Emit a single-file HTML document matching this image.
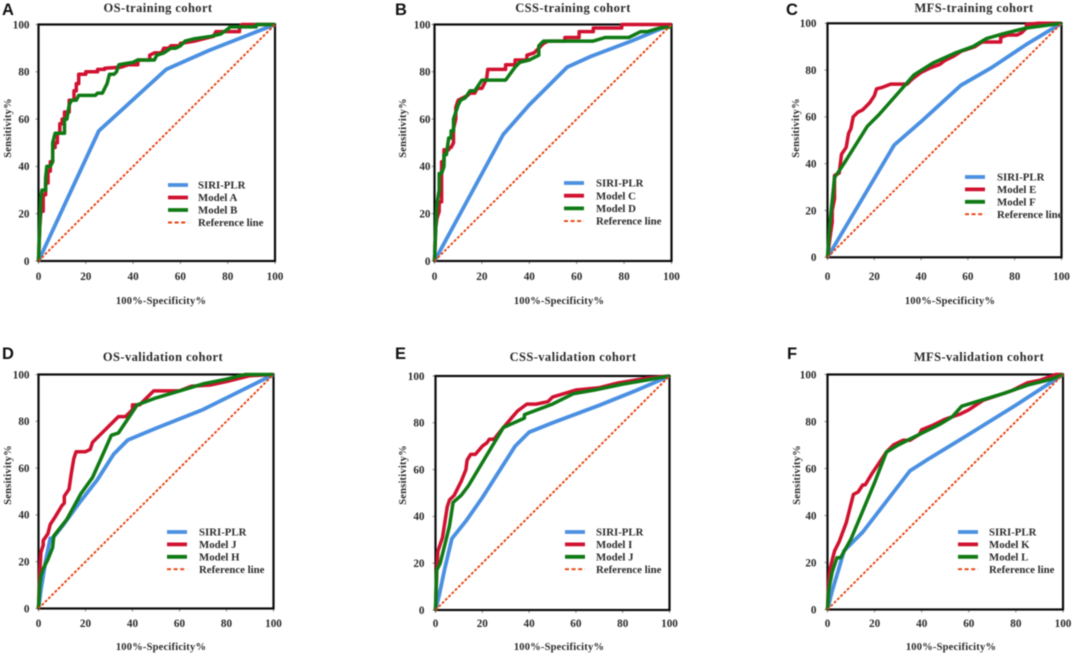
<!DOCTYPE html>
<html lang="en">
<head>
<meta charset="utf-8">
<title>ROC curves for training and validation cohorts</title>
<style>
html,body{margin:0;padding:0;background:#fff;width:1084px;height:656px;overflow:hidden}
svg{display:block;filter:blur(0.4px)}
text{font-family:"Liberation Serif",serif;font-weight:bold;fill:#2a2a2a}
.panel-letter{font-family:"Liberation Sans",sans-serif;font-size:16.5px;fill:#111}
.title{font-size:12.5px;letter-spacing:.4px;text-anchor:middle}
.tick{font-size:11.2px}
.axis-title{font-size:10.5px;text-anchor:middle;letter-spacing:.2px}
.legend{font-size:10.8px}
</style>
</head>
<body>
<svg id="figure" width="1084" height="656" viewBox="0 0 1084 656" xmlns="http://www.w3.org/2000/svg"></svg>
<script>
const xTicks = [0, 20, 40, 60, 80, 100];
const yTicks = [0, 20, 40, 60, 80, 100];
const refLine = [[0, 0], [100, 100]];

const siriA = [[0,0],[25.5,55],[54,81],[72,89],[100,100]];
const modelA = [[0,0],[0.5,14],[1,21],[2,21],[2,28],[3,28],[3,33],[4,33],[4,38],[5,38],[5,42],[6,42],[6,48],[7,48],[7,50],[8,50],[8,54],[9,54],[9,58],[10,58],[10,60],[11,60],[11,63],[13,63],[13,68],[15,68],[15,72],[16,72],[16,75],[17,75],[17,79],[20,79],[20,80],[25,80],[25,81],[28,81],[28,81.5],[35,82],[38,83],[42,83],[42,85],[47,85],[47,87],[49,88],[52,88],[53,90],[55,90],[56,91],[60,91],[60,92],[66,93],[70,94],[74,95],[75,97],[85,97],[85,99],[86,100],[100,100]];
const modelB = [[0,0],[0.5,14],[1,27],[1.5,30],[3,30],[3,35],[3.5,40],[5,40],[6,42],[6,50],[7,54],[11,54],[11,60],[12,60],[13,66],[14,68],[16,68],[17,70],[24,70],[25,71],[27,71],[28,73],[29,75],[30,79],[32,79],[33,80],[34,83],[40,84],[42,85],[49,85],[50,87],[53,88],[56,90],[58,90],[60,91],[62,93],[66,94],[73,95],[77,96],[80,98],[81,99],[92,99],[92,100],[100,100]];

const siriB = [[0,0],[29,53.5],[40,66],[56,82],[66,86.5],[83,93],[95,98],[100,100]];
const modelC = [[0,0],[0.5,14],[1,18],[2,21],[2,25],[3,25],[3,42],[4,42],[4,47],[6,47],[6,48],[7,48],[8,50],[8,56],[9,60],[9,65],[10,68],[12,69],[14,70],[15,71],[17,71],[18,73],[20,73],[21,75],[22,77],[22.5,81],[30,81],[30,83],[34,83],[34,85],[39,85],[39,87],[42,88],[44,90],[46,92],[48,93],[55,93],[55,94.5],[61,94.5],[61,97],[67,97],[67,98.5],[79,98.5],[79,100],[100,100]];
const modelD = [[0,0],[0.5,14],[1,24],[2,30],[2,37],[3,37],[4,40],[4,45],[5,45],[6,52],[7,52],[7,55],[8,55],[8,60],[10,66],[11,68],[13,69],[15,72],[17,72],[20,76.5],[30,76.5],[34,82],[36,84],[40,85],[44,87],[44,91],[46,93],[67,93],[72,94.5],[82,94.5],[87,97],[90,97],[95,98.5],[100,99]];

const siriC = [[0,0],[28.5,48],[40,58],[57,73.5],[70,81],[85,91],[100,100]];
const modelE = [[0,0],[1,8],[2,15],[2,20],[3,25],[3,35],[5,36],[6,44],[8,47],[9,53],[10,55],[11,60],[13,62],[15,63],[18,66],[20,69],[21,72],[23,72.5],[27,74],[34,74],[36,76],[40,79],[44,81],[48,82.5],[50,84],[54,86],[57,88],[63,90],[66,92],[74,92],[74,94],[77,95],[81,95],[83,96],[85,98],[85,99.5],[90,100],[100,100]];
const modelF = [[0,0],[1,14],[2,24],[3,34],[7,40],[12,48],[17,56],[22,61],[30,70],[37,78],[45,83],[55,87.5],[62,90],[68,93.5],[75,95.5],[85,98],[100,100]];

const siriD = [[0,0],[1,8],[3,20],[5,30],[6,30],[10,35],[18,46],[25,55],[32,66],[38,72],[50,77],[70,85],[85,92.5],[100,100]];
const modelJ1 = [[0,0],[0.5,15],[1,24],[2,27],[2,29],[4,32],[5,36],[7,39],[10,44],[11,45],[11,48],[13,51],[14,58],[15,64],[16,67],[20,67],[22,68],[23,71],[26,74],[30,78],[34,82],[37,82],[40,85],[40,87],[43,87],[46,90],[49,93],[60,93],[65,95],[73,95.5],[80,97],[90,99.5],[100,100]];
const modelH = [[0,0],[0.5,10],[1,14],[2,17],[4,21],[6,26],[6.5,31],[12,38],[18,49],[23,56],[27,65],[31,74],[34,75],[38,81],[42,87],[50,90],[60,93],[70,96],[80,98],[88,100],[100,100]];

const siriE = [[0,0],[1.5,6],[4,18],[7,30.5],[13,38],[20,48],[34,70],[40,76],[50,80],[70,87.5],[85,93.5],[100,100]];
const modelI = [[0,0],[0.5,16],[1,25],[3,31],[5,44],[6,47],[8,49],[11,55],[13,60],[13.5,64],[15,66.5],[17,66.5],[20,70],[22,71.5],[23,73],[25,73],[29,78],[35,85],[39,88],[43,88],[48,89],[50,91],[60,94],[70,95],[78,97],[90,99],[100,100]];
const modelJ2 = [[0,0],[0.5,17],[2,20],[4,28],[6,36],[7.5,46],[11,49],[14,53],[20,63],[29,78],[38,82],[38,83.5],[50,88],[59,92.5],[68,94],[80,96.5],[100,100]];

const siriF = [[0,0],[2,8],[5,18],[7,25],[15,33],[25,46],[35,59],[42,63.5],[60,74.5],[80,87],[100,100]];
const modelK = [[0,0],[0.5,12],[1,17],[2,21],[3,25],[5,29],[8,37],[11,49],[13,50],[15,53],[16,53],[19,58],[23,64],[25,67],[28,70],[32,72],[35,72],[39,74.5],[40,76.5],[45,78.5],[50,81],[56,83],[60,85],[66,89],[72,91],[78,93],[85,96.5],[90,97.5],[97,100],[100,100]];
const modelL = [[0,0],[0.5,8],[1,11],[2,16],[4,22],[5.5,22],[10,30],[15,42],[20,54],[25,67],[30,70],[38,74],[48,79],[53,82],[57,86.5],[65,89],[75,92],[85,95.5],[95,98],[100,100]];

const NS = 'http://www.w3.org/2000/svg';
const fig = document.getElementById('figure');

function node(parent, tag, attrs, txt) {
  const el = document.createElementNS(NS, tag);
  for (const k in attrs) el.setAttribute(k, attrs[k]);
  if (txt !== undefined) el.textContent = txt;
  parent.appendChild(el);
  return el;
}

const BLUE = '#4a90e2', RED = '#d0112f', GREEN = '#0f7a14', ORANGE = '#e8400c';

function drawPanel(p) {
  const g = node(fig, 'g', {});
  
  
  const sx = v => p.x0 + (p.x1 - p.x0) * v / 100;
  const sy = v => p.y0 - (p.y0 - p.y1) * v / 100;
  const toPts = d => d.map(q => sx(q[0]).toFixed(1) + ',' + sy(q[1]).toFixed(1)).join(' ');

  const letter = node(g, 'text', {x: p.letterX, y: p.letterY, class: 'panel-letter'}, p.letter);
  
  

  const title = node(g, 'text', {x: p.titleX, y: p.titleY, class: 'title'}, p.title);
  
  

  xTicks.forEach(t => {
    node(g, 'line', {x1: sx(t), x2: sx(t), y1: p.y0, y2: p.y0 + 3, stroke: '#888', 'stroke-width': 1});
    const lab = node(g, 'text', {x: sx(t), y: p.xLabelY, class: 'tick', 'text-anchor': 'middle'}, t);
    
    
  });
  yTicks.forEach(t => {
    node(g, 'line', {x1: p.x0 - 3, x2: p.x0, y1: sy(t), y2: sy(t), stroke: '#888', 'stroke-width': 1});
    const lab = node(g, 'text', {x: p.x0 - p.yLabelGap, y: sy(t) + 3.8, class: 'tick', 'text-anchor': 'end'}, t);
    
    
  });

  const xt = node(g, 'text', {x: p.xTitleX, y: p.xTitleY, class: 'axis-title'}, '100%-Specificity%');
  
  
  const yt = node(g, 'text', {x: 0, y: 0, class: 'axis-title', transform: 'translate(' + p.yTitleX + ',' + p.yTitleY + ') rotate(-90)'}, 'Sensitivity%');
  
  

  const frame = node(g, 'rect', {x: p.x0, y: p.y1, width: p.x1 - p.x0, height: p.y0 - p.y1, fill: 'none', stroke: '#0a0a0a', 'stroke-width': 2.2});
  
  

  const blue = node(g, 'polyline', {points: toPts(p.siri), fill: 'none', stroke: BLUE, 'stroke-width': 3.8, 'stroke-linejoin': 'round'});
  
  
  const red = node(g, 'polyline', {points: toPts(p.red), fill: 'none', stroke: RED, 'stroke-width': 3.5, 'stroke-linejoin': 'round'});
  
  
  const green = node(g, 'polyline', {points: toPts(p.green), fill: 'none', stroke: GREEN, 'stroke-width': 3.5, 'stroke-linejoin': 'round'});
  
  
  const ref = node(g, 'polyline', {points: toPts(refLine), fill: 'none', stroke: ORANGE, 'stroke-width': 1.9, 'stroke-dasharray': '2.8 1.8'});
  
  

  const labels = ['SIRI-PLR', p.redName, p.greenName, 'Reference line'];
  const colors = [BLUE, RED, GREEN, ORANGE];
  labels.forEach((name, i) => {
    const y = p.legY + i * p.legStep;
    const sw = node(g, 'line', {x1: p.legX, x2: p.legX + 20, y1: y, y2: y, stroke: colors[i], 'stroke-width': i === 3 ? 1.9 : 3.8, 'stroke-dasharray': i === 3 ? '4 2.6' : 'none'});
    
    
    const tx = node(g, 'text', {x: p.legX + p.legGap, y: y + 3.6, class: 'legend'}, name);
    
    
  });
}

drawPanel({letter:'A', title:'OS-training cohort', x0:38.5, x1:275, y0:261, y1:24.5, letterX:2, letterY:15, titleX:158, titleY:12, xLabelY:280, xTitleX:161, xTitleY:304, yTitleX:11, yTitleY:128, yLabelGap:9, legX:168, legY:185, legStep:12.5, legGap:30, siri:siriA, red:modelA, green:modelB, redName:'Model A', greenName:'Model B'});
drawPanel({letter:'B', title:'CSS-training cohort', x0:434.5, x1:671.5, y0:261, y1:24.5, letterX:395, letterY:15, titleX:573, titleY:12, xLabelY:280, xTitleX:559, xTitleY:304, yTitleX:406, yTitleY:128, yLabelGap:4, legX:564, legY:183, legStep:12.7, legGap:32, siri:siriB, red:modelC, green:modelD, redName:'Model C', greenName:'Model D'});
drawPanel({letter:'C', title:'MFS-training cohort', x0:827.5, x1:1061.5, y0:257.3, y1:23.3, letterX:786, letterY:15, titleX:974, titleY:12, xLabelY:280, xTitleX:950, xTitleY:304, yTitleX:799, yTitleY:128, yLabelGap:11, legX:965, legY:177, legStep:12.4, legGap:32, siri:siriC, red:modelE, green:modelF, redName:'Model E', greenName:'Model F'});
drawPanel({letter:'D', title:'OS-validation cohort', x0:38.5, x1:273.5, y0:608.5, y1:374.5, letterX:2, letterY:359, titleX:163, titleY:361, xLabelY:627, xTitleX:161, xTitleY:650, yTitleX:11, yTitleY:475, yLabelGap:9, legX:167, legY:532, legStep:12.4, legGap:32, siri:siriD, red:modelJ1, green:modelH, redName:'Model J', greenName:'Model H'});
drawPanel({letter:'E', title:'CSS-validation cohort', x0:435.5, x1:669.5, y0:610, y1:376, letterX:395, letterY:359, titleX:573, titleY:361, xLabelY:627, xTitleX:559, xTitleY:650, yTitleX:406, yTitleY:475, yLabelGap:11, legX:565, legY:532, legStep:12.4, legGap:31, siri:siriE, red:modelI, green:modelJ2, redName:'Model I', greenName:'Model J'});
drawPanel({letter:'F', title:'MFS-validation cohort', x0:827.5, x1:1063, y0:609.5, y1:374.5, letterX:787, letterY:359, titleX:979, titleY:361, xLabelY:627, xTitleX:951, xTitleY:650, yTitleX:800, yTitleY:475, yLabelGap:11, legX:958, legY:532, legStep:12.4, legGap:31, siri:siriF, red:modelK, green:modelL, redName:'Model K', greenName:'Model L'});
</script>
</body>
</html>
